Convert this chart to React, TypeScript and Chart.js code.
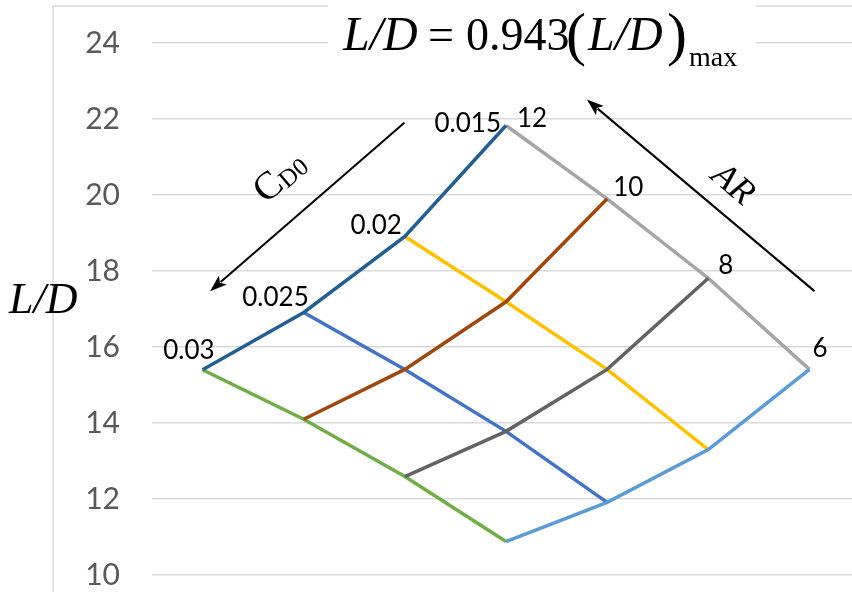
import { useEffect, useRef } from "react";
import { Chart, registerables } from "chart.js";

Chart.register(...registerables);

// ---- data ----
const categories = ["p1", "p2", "p3", "p4", "p5", "p6", "p7"];
const yMin = 10;
const yMax = 24;
const yStep = 2;

// constant-AR lines (CD0 varies 0.03 -> 0.015)
const ar12 = [15.4, 16.91, 18.91, 21.83, null, null, null];
const ar10 = [null, 14.1, 15.41, 17.19, 19.9, null, null];
const ar8 = [null, null, 12.59, 13.78, 15.41, 17.81, null];
const ar6 = [null, null, null, 10.88, 11.91, 13.3, 15.41];
// constant-CD0 lines (AR varies 12 -> 6)
const cd015 = [null, null, null, 21.83, 19.9, 17.81, 15.41];
const cd020 = [null, null, 18.91, 17.19, 15.41, 13.3, null];
const cd025 = [null, 16.91, 15.41, 13.78, 11.91, null, null];
const cd030 = [15.4, 14.1, 12.59, 10.88, null, null, null];

const cd0Labels = ["0.03", "0.025", "0.02", "0.015"];
const cd0LabelIdx = [0, 1, 2, 3]; // on the AR=12 line
const arLabels = ["12", "10", "8", "6"];
const arLabelIdx = [3, 4, 5, 6]; // on the CD0=0.015 line

// label offsets (px) from their node
const cd0LabelOffsets = [
  [12, -11],
  [5, -6],
  [-3, -2],
  [-5, 7],
];
const arLabelOffsets = [
  [11, 2],
  [6, -3],
  [10, -4],
  [3, -12],
];

// arrows in data coordinates [x index, value]
const cd0Arrow = [
  [1.995, 21.9],
  [0.074, 17.47],
];
const arArrow = [
  [6.05, 17.47],
  [3.8, 22.51],
];

const SERIF = '"Liberation Serif", "DejaVu Serif", serif';
const SANS = 'Lato, "Open Sans", sans-serif';

function drawArrow(ctx: CanvasRenderingContext2D, x1: number, y1: number, x2: number, y2: number) {
  const ang = Math.atan2(y2 - y1, x2 - x1);
  const head = 17;
  const half = 6;
  ctx.save();
  ctx.strokeStyle = "#000";
  ctx.fillStyle = "#000";
  ctx.lineWidth = 2;
  ctx.beginPath();
  ctx.moveTo(x1, y1);
  ctx.lineTo(x2 - Math.cos(ang) * (head - 3), y2 - Math.sin(ang) * (head - 3));
  ctx.stroke();
  ctx.beginPath();
  ctx.moveTo(x2, y2);
  const bx = x2 - Math.cos(ang) * head;
  const by = y2 - Math.sin(ang) * head;
  ctx.lineTo(bx + Math.sin(ang) * half, by - Math.cos(ang) * half);
  ctx.lineTo(bx + Math.cos(ang) * 4, by + Math.sin(ang) * 4);
  ctx.lineTo(bx - Math.sin(ang) * half, by + Math.cos(ang) * half);
  ctx.closePath();
  ctx.fill();
  ctx.restore();
}

const overlay = {
  id: "overlay",
  beforeDraw(chart: any) {
    const ctx: CanvasRenderingContext2D = chart.ctx;
    ctx.save();
    ctx.strokeStyle = "#d9d9d9";
    ctx.lineWidth = 1.5;
    ctx.beginPath();
    ctx.moveTo(53, chart.height);
    ctx.lineTo(53, 6);
    ctx.lineTo(chart.width, 6);
    ctx.stroke();
    ctx.restore();
  },
  afterDatasetsDraw(chart: any) {
    const ctx: CanvasRenderingContext2D = chart.ctx;
    const xs = chart.scales.x;
    const ys = chart.scales.y;
    const px = (i: number) => xs.getPixelForValue(i);
    const py = (v: number) => ys.getPixelForValue(v);

    // title box
    ctx.save();
    ctx.fillStyle = "#ffffff";
    ctx.fillRect(328, 0, 428, 82);

    // title formula
    ctx.fillStyle = "#000";
    ctx.textBaseline = "alphabetic";
    ctx.textAlign = "left";
    const base = 50;
    ctx.font = `italic 48px ${SERIF}`;
    ctx.fillText("L/D", 343, base);
    ctx.font = `46px ${SERIF}`;
    ctx.fillText("=", 428, base);
    ctx.fillText("0.943", 466, base);
    ctx.font = `60px ${SERIF}`;
    ctx.fillText("(", 566, base + 4);
    ctx.font = `italic 48px ${SERIF}`;
    ctx.fillText("L/D", 588, base);
    ctx.font = `60px ${SERIF}`;
    ctx.fillText(")", 667, base + 4);
    ctx.font = `28px ${SERIF}`;
    ctx.fillText("max", 689, 66);

    // y axis title
    ctx.font = `italic 44px ${SERIF}`;
    ctx.fillText("L/D", 9, 313);

    // arrows
    drawArrow(ctx, px(cd0Arrow[0][0]), py(cd0Arrow[0][1]), px(cd0Arrow[1][0]), py(cd0Arrow[1][1]));
    drawArrow(ctx, px(arArrow[0][0]), py(arArrow[0][1]), px(arArrow[1][0]), py(arArrow[1][1]));

    // C_D0 label
    ctx.save();
    ctx.translate(279, 176);
    ctx.rotate((-40 * Math.PI) / 180);
    ctx.font = `39px ${SERIF}`;
    const wC = ctx.measureText("C").width;
    ctx.font = `25px ${SERIF}`;
    const wD = ctx.measureText("D0").width;
    const start = -(wC + wD) / 2;
    ctx.font = `39px ${SERIF}`;
    ctx.fillText("C", start, 13);
    ctx.font = `25px ${SERIF}`;
    ctx.fillText("D0", start + wC, 15);
    ctx.restore();

    // AR label
    ctx.save();
    ctx.translate(734, 183);
    ctx.rotate((40 * Math.PI) / 180);
    ctx.font = `italic 36px ${SERIF}`;
    ctx.textAlign = "center";
    ctx.fillText("AR", 0, 12);
    ctx.restore();

    // data labels
    ctx.font = `26px ${SANS}`;
    ctx.fillStyle = "#000";
    ctx.textAlign = "right";
    cd0Labels.forEach((t, k) => {
      const i = cd0LabelIdx[k];
      const v = ar12[i] as number;
      ctx.fillText(t, px(i) + cd0LabelOffsets[k][0], py(v) + cd0LabelOffsets[k][1]);
    });
    ctx.textAlign = "left";
    arLabels.forEach((t, k) => {
      const i = arLabelIdx[k];
      const v = cd015[i] as number;
      ctx.fillText(t, px(i) + arLabelOffsets[k][0], py(v) + arLabelOffsets[k][1]);
    });
    ctx.restore();
  },
};

function ds(label: string, data: (number | null)[], color: string) {
  return {
    label,
    data,
    borderColor: color,
    backgroundColor: color,
    borderWidth: 3.5,
    pointRadius: 0,
    pointHoverRadius: 0,
    fill: false,
    tension: 0,
    spanGaps: false,
  };
}

export default function App() {
  const ref = useRef<HTMLCanvasElement | null>(null);
  useEffect(() => {
    if (!ref.current) return;
    const chart = new Chart(ref.current, {
      type: "line",
      data: {
        labels: categories,
        datasets: [
          ds("AR 12", ar12, "#255E91"),
          ds("AR 10", ar10, "#9E480E"),
          ds("AR 8", ar8, "#636363"),
          ds("AR 6", ar6, "#5B9BD5"),
          ds("CD0 0.015", cd015, "#A5A5A5"),
          ds("CD0 0.02", cd020, "#FFC000"),
          ds("CD0 0.025", cd025, "#4472C4"),
          ds("CD0 0.03", cd030, "#70AD47"),
        ],
      },
      options: {
        responsive: false,
        animation: false,
        layout: { padding: { top: 43, bottom: 15, left: 0, right: 0 } },
        plugins: {
          legend: { display: false },
          tooltip: { enabled: false },
          title: { display: false },
        },
        scales: {
          x: {
            type: "category",
            offset: true,
            display: false,
          },
          y: {
            min: yMin,
            max: yMax,
            border: { display: false },
            grid: {
              color: "#d9d9d9",
              lineWidth: 1.5,
              drawTicks: true,
              tickLength: 30,
              tickColor: "rgba(0,0,0,0)",
            },
            ticks: {
              stepSize: yStep,
              padding: 2,
              color: "#595959",
              font: { family: SANS, size: 30, lineHeight: 1 },
            },
            afterFit: (scale: any) => {
              scale.width = 152;
            },
          },
        },
      },
      plugins: [overlay],
    });
    return () => chart.destroy();
  }, []);

  return (
    <div
      style={{
        position: "fixed",
        left: 0,
        top: 0,
        width: 852,
        height: 592,
        overflow: "hidden",
        background: "#ffffff",
      }}
    >
      <canvas ref={ref} width={860} height={592} style={{ display: "block" }} />
    </div>
  );
}
